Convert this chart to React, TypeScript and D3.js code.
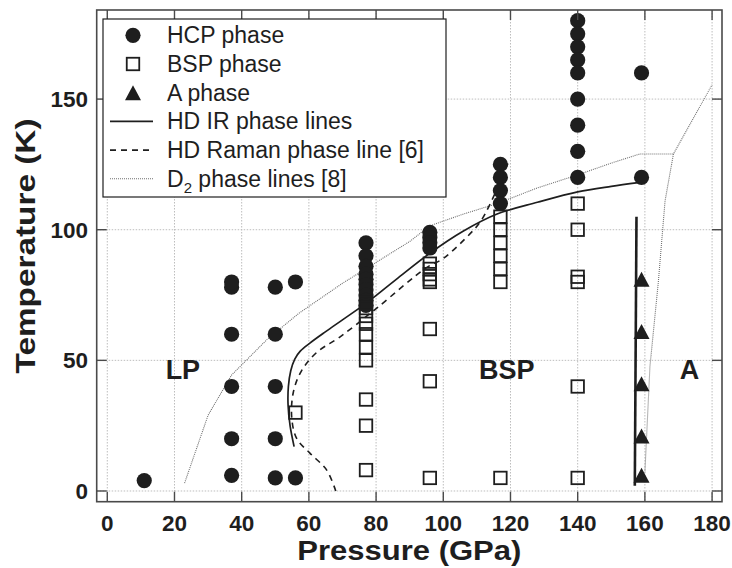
import React from "react";
import * as d3 from "d3";

// ---------- data ----------
const hcpPoints: [number, number][] = [
  [11, 4],
  [37, 6], [37, 20], [37, 40], [37, 60], [37, 78], [37, 80],
  [50, 5], [50, 20], [50, 40], [50, 60], [50, 78],
  [56, 5], [56, 80],
  [77, 95], [77, 90], [77, 86], [77, 83], [77, 81], [77, 79], [77, 77], [77, 75], [77, 73], [77, 71],
  [96, 99], [96, 97], [96, 95], [96, 93],
  [117, 125], [117, 120], [117, 115], [117, 110],
  [140, 180], [140, 175], [140, 170], [140, 165], [140, 160], [140, 150], [140, 140], [140, 130], [140, 120],
  [159, 160], [159, 120],
];

const bspPoints: [number, number][] = [
  [56, 30],
  [77, 8], [77, 25], [77, 35], [77, 50], [77, 55], [77, 60], [77, 64], [77, 67], [77, 70], [77, 72],
  [96, 5], [96, 42], [96, 62], [96, 80], [96, 81], [96, 83], [96, 85], [96, 87],
  [117, 5], [117, 80], [117, 85], [117, 90], [117, 95], [117, 100], [117, 105],
  [140, 5], [140, 40], [140, 80], [140, 82], [140, 100], [140, 110],
];

const aPoints: [number, number][] = [
  [159, 6], [159, 21], [159, 41], [159, 61], [159, 81],
];

const irCurve: [number, number][] = [
  [55.6, 17], [54.4, 25], [53.8, 33], [53.9, 40], [54.6, 46], [55.8, 50.5], [57.5, 53.6],
  [60.3, 56.6], [65, 61], [70, 65.5], [77.7, 72.5], [86, 81], [96, 91], [106, 99.5],
  [116, 106], [128, 110.5], [140, 114.5], [150, 116.6], [158, 118],
];
const irVertical: [number, number][] = [[157.5, 105], [157, 2]];

const ramanCurve: [number, number][] = [
  [68, 0], [65.3, 8], [60.3, 14.5], [56.4, 20], [54.9, 28], [55.4, 38], [57.8, 46],
  [62.3, 53], [69.3, 59], [80.2, 70], [95, 85.5], [100, 89], [108, 98.5], [111, 103],
  [114, 110], [119.6, 126.5],
];

const d2Curve: [number, number][] = [
  [23, 3], [30, 29], [37, 44.4], [47.4, 57.8], [57, 68], [70, 79.5], [80, 87.5], [90, 95.5],
  [96, 101.5], [106, 106], [116, 110], [128, 116], [140, 121], [150, 125.5], [158.5, 129],
  [168.5, 129], [180, 155.5],
];
const d2Branch: [number, number][] = [
  [168.5, 129], [166, 111], [164, 80], [161.5, 47.6], [160, 7],
];

const xTicks = [0, 20, 40, 60, 80, 100, 120, 140, 160, 180];
const yTicks = [0, 50, 100, 150];

const regionLabels: { text: string; p: number; t: number }[] = [
  { text: "LP", p: 22.5, t: 43 },
  { text: "BSP", p: 118.9, t: 43 },
  { text: "A", p: 173.3, t: 43 },
];

const legendItems = [
  { kind: "circle", label: "HCP phase" },
  { kind: "square", label: "BSP phase" },
  { kind: "triangle", label: "A phase" },
  { kind: "solid", label: "HD IR phase lines" },
  { kind: "dashed", label: "HD Raman phase line [6]" },
  { kind: "dotted", label: "D2 phase lines [8]" },
];

// ---------- layout ----------
const W = 732;
const H = 568;
const left = 96.7, right = 722, top = 10, bottom = 501.7;
const x = d3.scaleLinear().domain([-3.15, 182.95]).range([left, right]);
const y = d3.scaleLinear().domain([-4.1, 184.1]).range([bottom, top]);

const ink = "#1e1e1e";
const frame = "#4a4a4a";
const font = "'Liberation Sans', Arial, Helvetica, sans-serif";

const smooth = d3.line<[number, number]>().x(d => x(d[0])).y(d => y(d[1])).curve(d3.curveCatmullRom.alpha(0.5));
const straight = d3.line<[number, number]>().x(d => x(d[0])).y(d => y(d[1]));

function Circle({ cx, cy }: { cx: number; cy: number }) {
  return <circle cx={cx} cy={cy} r={7.6} fill={ink} />;
}
function Square({ cx, cy }: { cx: number; cy: number }) {
  const s = 12.5;
  return <rect x={cx - s / 2} y={cy - s / 2} width={s} height={s} fill="none" stroke={ink} strokeWidth={1.8} />;
}
function Tri({ cx, cy }: { cx: number; cy: number }) {
  const w = 16, h = 15;
  return <polygon points={`${cx - w / 2},${cy + h / 2} ${cx + w / 2},${cy + h / 2} ${cx},${cy - h / 2}`} fill={ink} />;
}

export default function App() {
  const legX = 103, legY = 19, legW = 343, legH = 178;
  const rowBase = 43.3, rowStep = 28.7;
  return (
    <svg width={W} height={H} style={{ position: "absolute", left: 0, top: 0, background: "#fff" }} fontFamily={font}>
      {/* grid */}
      <g stroke="#bdbdbd" strokeWidth={1} strokeDasharray="1.5,1.5">
        {xTicks.map(t => <line key={"gx" + t} x1={x(t)} x2={x(t)} y1={top} y2={bottom} />)}
        {yTicks.map(t => <line key={"gy" + t} x1={left} x2={right} y1={y(t)} y2={y(t)} />)}
      </g>

      {/* lines */}
      <path d={straight(d2Curve) || ""} fill="none" stroke="#6f6f6f" strokeWidth={1.1} strokeDasharray="1,1" />
      <path d={straight(d2Branch) || ""} fill="none" stroke="#6f6f6f" strokeWidth={1.1} strokeDasharray="1,1" />
      <path d={smooth(ramanCurve) || ""} fill="none" stroke={ink} strokeWidth={1.6} strokeDasharray="6,5" />
      <path d={smooth(irCurve) || ""} fill="none" stroke={ink} strokeWidth={1.7} />
      <path d={straight(irVertical) || ""} fill="none" stroke={ink} strokeWidth={2.6} />

      {/* markers */}
      {hcpPoints.map((d, i) => <Circle key={"c" + i} cx={x(d[0])} cy={y(d[1])} />)}
      {bspPoints.map((d, i) => <Square key={"s" + i} cx={x(d[0])} cy={y(d[1])} />)}
      {aPoints.map((d, i) => <Tri key={"t" + i} cx={x(d[0])} cy={y(d[1])} />)}

      {/* region labels */}
      {regionLabels.map(r => (
        <text key={r.text} x={x(r.p)} y={y(r.t)} textAnchor="middle" fontSize={27} fontWeight="bold" fill={ink}>{r.text}</text>
      ))}

      {/* frame & ticks */}
      <rect x={left} y={top} width={right - left} height={bottom - top} fill="none" stroke={frame} strokeWidth={1.6} />
      <g stroke={frame} strokeWidth={1.4}>
        {xTicks.map(t => (
          <g key={"tx" + t}>
            <line x1={x(t)} x2={x(t)} y1={bottom} y2={bottom - 10} />
            <line x1={x(t)} x2={x(t)} y1={top} y2={top + 10} />
          </g>
        ))}
        {yTicks.map(t => (
          <g key={"ty" + t}>
            <line x1={left} x2={left + 10} y1={y(t)} y2={y(t)} />
            <line x1={right} x2={right - 10} y1={y(t)} y2={y(t)} />
          </g>
        ))}
      </g>
      {xTicks.map(t => (
        <text key={"lx" + t} x={x(t)} y={531} textAnchor="middle" fontSize={22.5} fontWeight="bold" fill={ink}>{t}</text>
      ))}
      {yTicks.map(t => (
        <text key={"ly" + t} x={88} y={y(t) + 8} textAnchor="end" fontSize={22.5} fontWeight="bold" fill={ink}>{t}</text>
      ))}

      {/* axis titles */}
      <text x={(left + right) / 2} y={560} textAnchor="middle" fontSize={27} fontWeight="bold" fill={ink}
        textLength={224} lengthAdjust="spacingAndGlyphs">Pressure (GPa)</text>
      <text transform={`translate(35,246) rotate(-90)`} textAnchor="middle" fontSize={28} fontWeight="bold" fill={ink}
        textLength={255} lengthAdjust="spacingAndGlyphs">Temperature (K)</text>

      {/* legend */}
      <rect x={legX} y={legY} width={legW} height={legH} fill="#fff" stroke={ink} strokeWidth={1.2} />
      {legendItems.map((it, i) => {
        const by = rowBase + i * rowStep;
        const cy = by - 8;
        const sx = 133;
        let sym: React.ReactNode = null;
        if (it.kind === "circle") sym = <Circle cx={sx} cy={cy} />;
        else if (it.kind === "square") sym = <Square cx={sx} cy={cy} />;
        else if (it.kind === "triangle") sym = <Tri cx={sx} cy={cy} />;
        else if (it.kind === "solid") sym = <line x1={110} x2={153} y1={cy} y2={cy} stroke={ink} strokeWidth={1.7} />;
        else if (it.kind === "dashed") sym = <line x1={110} x2={153} y1={cy} y2={cy} stroke={ink} strokeWidth={1.6} strokeDasharray="6,5" />;
        else sym = <line x1={110} x2={153} y1={cy} y2={cy} stroke="#6f6f6f" strokeWidth={1.1} strokeDasharray="1,1" />;
        return (
          <g key={it.label}>
            {sym}
            <text x={167} y={by} fontSize={23} fill={ink}>
              {it.kind === "dotted" ? (
                <>
                  D<tspan fontSize={15} dy={6}>2</tspan><tspan dy={-6}> phase lines [8]</tspan>
                </>
              ) : it.label}
            </text>
          </g>
        );
      })}
    </svg>
  );
}
